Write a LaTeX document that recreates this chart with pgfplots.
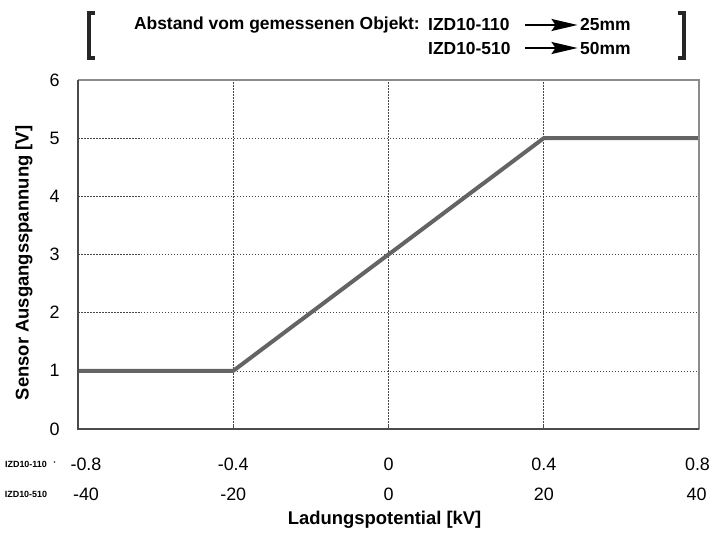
\documentclass[border=0pt]{standalone}
\usepackage{fontspec}
\setmainfont{Liberation Sans}
\usepackage{pgfplots}
\pgfplotsset{compat=1.18}
\usetikzlibrary{arrows.meta}

\definecolor{lineg}{RGB}{100,100,100}
\definecolor{frameg}{RGB}{75,75,75}
\definecolor{framel}{RGB}{140,140,140}
\definecolor{gridg}{RGB}{70,70,70}

\tikzset{
  tl/.style={inner sep=0pt, font=\fontsize{18}{21}\selectfont},
  hd/.style={inner sep=0pt, font=\fontsize{17.5}{20}\selectfont\bfseries},
  sm/.style={inner sep=0pt, font=\fontsize{9}{10}\selectfont\bfseries},
  arr/.style={line width=2bp, -{Stealth[length=26bp,width=12bp,inset=4bp]}},
}

\begin{document}
\begin{tikzpicture}
\begin{axis}[
  scale only axis,
  width=621bp, height=349bp,
  xmin=-0.8, xmax=0.8, ymin=0, ymax=6,
  clip=false,
  axis line style={draw=none},
  xtick={-0.8,-0.4,0,0.4,0.8},
  xticklabels={},
  xtick pos=bottom,
  tick align=inside,
  major tick length=5bp,
  xtick style={draw=frameg, line width=0.8bp},
  ytick={0,1,2,3,4,5,6},
  ytick style={draw=none},
  yticklabel style={font=\fontsize{18}{21}\selectfont, xshift=-15bp},
  /pgf/number format/assume math mode=true,
  grid=major,
  major grid style={draw=gridg, line width=0.6bp, dash pattern=on 1.5bp off 1.5bp},
]
\addplot[color=lineg, line width=4bp, line join=round] coordinates {
  (-0.8,1) (-0.4,1) (0.4,5) (0.8,5)
};

% frame: darker left and bottom, lighter top and right
\draw[framel, line width=1.6bp] (rel axis cs:0,1) -- (rel axis cs:1,1) -- (rel axis cs:1,0);
\draw[frameg, line width=1.6bp] (rel axis cs:0,1) -- (rel axis cs:0,0) -- (rel axis cs:1,0);

% picture extent
\path (axis cs:-1.00097,-1.788) rectangle (axis cs:0.83349,7.3754);

% header
\node[hd, anchor=east] at (axis cs:0.0812,6.9456) {Abstand vom gemessenen Objekt:};
\node[hd, anchor=west] at (axis cs:0.1018,6.9456) {IZD10-110};
\node[hd, anchor=west] at (axis cs:0.1018,6.550) {IZD10-510};
\node[hd, anchor=west] at (axis cs:0.4934,6.9456) {25mm};
\node[hd, anchor=west] at (axis cs:0.4934,6.550) {50mm};
\draw[arr] (axis cs:0.3517,6.9456) -- (axis cs:0.4870,6.9456);
\draw[arr] (axis cs:0.3517,6.550) -- (axis cs:0.4870,6.550);
\draw[line width=4.5bp, black!85]
  (axis cs:-0.7562,7.152) -- (axis cs:-0.7717,7.152) -- (axis cs:-0.7717,6.378) -- (axis cs:-0.7562,6.378);
\draw[line width=4.5bp, black!85]
  (axis cs:0.7459,7.152) -- (axis cs:0.7614,7.152) -- (axis cs:0.7614,6.378) -- (axis cs:0.7459,6.378);

% two rows of x tick labels
\node[tl] at (axis cs:-0.7794,-0.6017) {-0.8};
\node[tl] at (axis cs:-0.4,-0.6017) {-0.4};
\node[tl] at (axis cs:0,-0.6017) {0};
\node[tl] at (axis cs:0.4,-0.6017) {0.4};
\node[tl] at (axis cs:0.7961,-0.6017) {0.8};
\node[tl] at (axis cs:-0.7794,-1.1175) {-40};
\node[tl] at (axis cs:-0.4,-1.1175) {-20};
\node[tl] at (axis cs:0,-1.1175) {0};
\node[tl] at (axis cs:0.4,-1.1175) {20};
\node[tl] at (axis cs:0.7936,-1.1175) {40};
\node[sm] at (axis cs:-0.934,-0.6017) {IZD10-110};
\node[sm] at (axis cs:-0.8593,-0.6017) {·};
\node[sm] at (axis cs:-0.934,-1.1175) {IZD10-510};

% axis labels
\node[inner sep=0pt, font=\fontsize{18.5}{21}\selectfont\bfseries] at (axis cs:-0.01,-1.5645) {Ladungspotential [kV]};
\node[inner sep=0pt, rotate=90, font=\fontsize{18.5}{21}\selectfont\bfseries] at (axis cs:-0.9391,2.854) {Sensor Ausgangsspannung [V]};
\end{axis}
\end{tikzpicture}
\end{document}
